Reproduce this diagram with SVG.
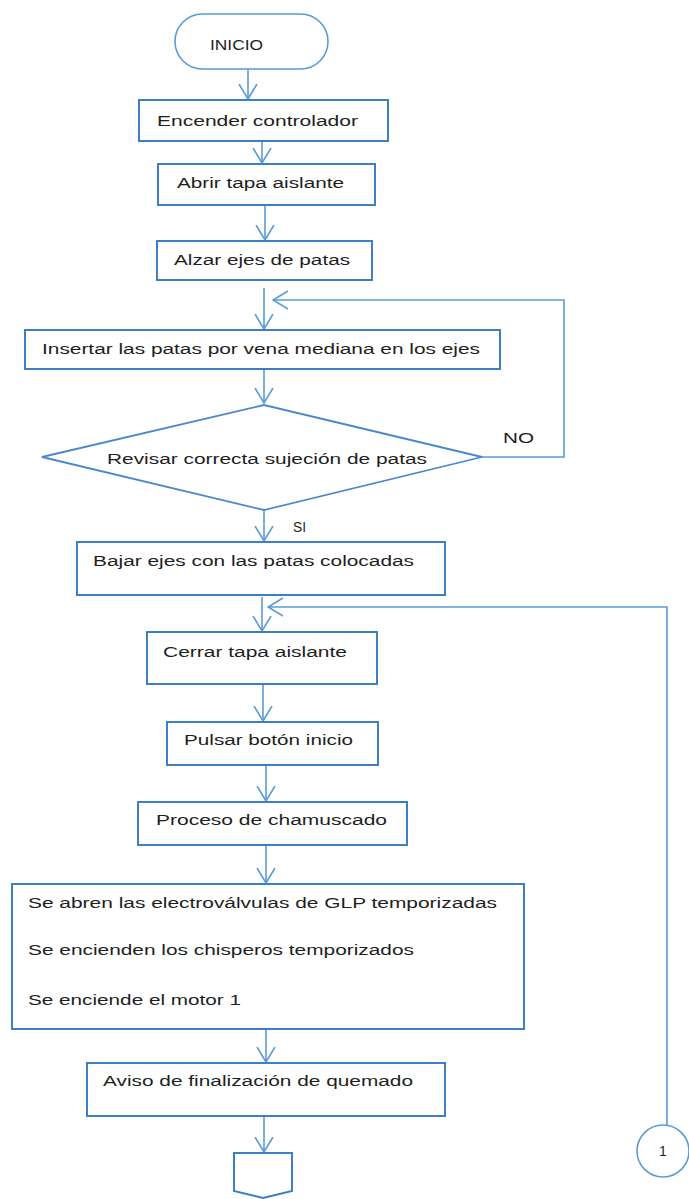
<svg xmlns="http://www.w3.org/2000/svg" width="689" height="1199" viewBox="0 0 689 1199">
  <style>
    .box { fill: #ffffff; stroke: #3d7fc4; stroke-width: 2; }
    .term { fill: #ffffff; stroke: #5b9bd5; stroke-width: 1.6; }
    .dia { fill: #ffffff; stroke: #4a88c9; stroke-width: 1.8; }
    .conn { fill: none; stroke: #5b9bd5; stroke-width: 1.6; }
    .lbl { font-family: "Liberation Sans", Arial, sans-serif; font-size: 14px; fill: #1e1e1e; }
  </style>
  <defs>
    <marker id="arrow" viewBox="0 0 16 20" refX="15" refY="10" markerWidth="16" markerHeight="20" markerUnits="userSpaceOnUse" orient="auto">
      <path d="M0,1 L15,10 L0,19" fill="none" stroke="#5b9bd5" stroke-width="1.6"/>
    </marker>
  </defs>
  <rect width="689" height="1199" fill="#ffffff"/>

  <!-- connectors -->
  <g id="connectors" class="conn">
    <line x1="248" y1="69" x2="248" y2="99" marker-end="url(#arrow)"/>
    <line x1="262" y1="141" x2="262" y2="163" marker-end="url(#arrow)"/>
    <line x1="265" y1="206" x2="265" y2="240" marker-end="url(#arrow)"/>
    <line x1="264" y1="288" x2="264" y2="329" marker-end="url(#arrow)"/>
    <line x1="264" y1="369" x2="264" y2="403" marker-end="url(#arrow)"/>
    <polyline points="482,457 564,457 564,300 273,300" marker-end="url(#arrow)"/>
    <line x1="264" y1="510" x2="264" y2="541" marker-end="url(#arrow)"/>
    <line x1="262" y1="597" x2="262" y2="631" marker-end="url(#arrow)"/>
    <polyline points="667,1125 667,607 268,607" marker-end="url(#arrow)"/>
    <line x1="263" y1="685" x2="263" y2="721" marker-end="url(#arrow)"/>
    <line x1="266" y1="766" x2="266" y2="801" marker-end="url(#arrow)"/>
    <line x1="266" y1="846" x2="266" y2="883" marker-end="url(#arrow)"/>
    <line x1="266" y1="1030" x2="266" y2="1062" marker-end="url(#arrow)"/>
    <line x1="264" y1="1117" x2="264" y2="1152" marker-end="url(#arrow)"/>
  </g>

  <g id="inicio">
    <rect class="term" x="175" y="14" width="153" height="55" rx="27.5"/>
    <text class="lbl" x="210" y="50" textLength="53" lengthAdjust="spacingAndGlyphs">INICIO</text>
  </g>

  <g id="encender">
    <rect class="box" x="139" y="100" width="249" height="41"/>
    <text class="lbl" x="157" y="126" textLength="201" lengthAdjust="spacingAndGlyphs">Encender controlador</text>
  </g>

  <g id="abrir">
    <rect class="box" x="158" y="164" width="217" height="41"/>
    <text class="lbl" x="177" y="188" textLength="167" lengthAdjust="spacingAndGlyphs">Abrir tapa aislante</text>
  </g>

  <g id="alzar">
    <rect class="box" x="157" y="241" width="215" height="39"/>
    <text class="lbl" x="174" y="265" textLength="176" lengthAdjust="spacingAndGlyphs">Alzar ejes de patas</text>
  </g>

  <g id="insertar">
    <rect class="box" x="25" y="330" width="475" height="39"/>
    <text class="lbl" x="42" y="354" textLength="438" lengthAdjust="spacingAndGlyphs">Insertar las patas por vena mediana en los ejes</text>
  </g>

  <g id="revisar">
    <polygon class="dia" points="42,457 264,405 482,457 264,510"/>
    <text class="lbl" x="107" y="464" textLength="320" lengthAdjust="spacingAndGlyphs">Revisar correcta sujeción de patas</text>
    <text class="lbl" x="503" y="443" textLength="31" lengthAdjust="spacingAndGlyphs">NO</text>
    <text class="lbl" x="293" y="532" textLength="13" lengthAdjust="spacingAndGlyphs">SI</text>
  </g>

  <g id="bajar">
    <rect class="box" x="77" y="542" width="368" height="53"/>
    <text class="lbl" x="93" y="566" textLength="321" lengthAdjust="spacingAndGlyphs">Bajar ejes con las patas colocadas</text>
  </g>

  <g id="cerrar">
    <rect class="box" x="147" y="632" width="230" height="52"/>
    <text class="lbl" x="163" y="657" textLength="184" lengthAdjust="spacingAndGlyphs">Cerrar tapa aislante</text>
  </g>

  <g id="pulsar">
    <rect class="box" x="167" y="722" width="211" height="43"/>
    <text class="lbl" x="184" y="745" textLength="169" lengthAdjust="spacingAndGlyphs">Pulsar botón inicio</text>
  </g>

  <g id="proceso">
    <rect class="box" x="138" y="802" width="269" height="43"/>
    <text class="lbl" x="156" y="825" textLength="231" lengthAdjust="spacingAndGlyphs">Proceso de chamuscado</text>
  </g>

  <g id="acciones">
    <rect class="box" x="12" y="884" width="512" height="145"/>
    <text class="lbl" x="28" y="908" textLength="469" lengthAdjust="spacingAndGlyphs">Se abren las electroválvulas de GLP temporizadas</text>
    <text class="lbl" x="28" y="955" textLength="386" lengthAdjust="spacingAndGlyphs">Se encienden los chisperos temporizados</text>
    <text class="lbl" x="28" y="1005" textLength="213" lengthAdjust="spacingAndGlyphs">Se enciende el motor 1</text>
  </g>

  <g id="aviso">
    <rect class="box" x="87" y="1063" width="358" height="53"/>
    <text class="lbl" x="103" y="1086" textLength="310" lengthAdjust="spacingAndGlyphs">Aviso de finalización de quemado</text>
  </g>

  <g id="conector-pagina">
    <polygon class="box" points="234,1153 292,1153 292,1191 263,1198 234,1191"/>
  </g>

  <g id="conector-1">
    <circle class="term" cx="663" cy="1151" r="26"/>
    <text class="lbl" x="663" y="1156" text-anchor="middle">1</text>
  </g>
</svg>
